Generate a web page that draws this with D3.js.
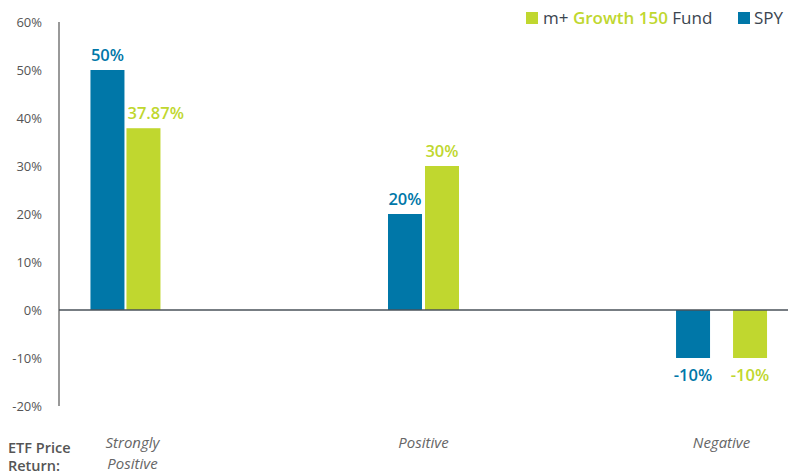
<!DOCTYPE html>
<html><head><meta charset="utf-8">
<script src="https://cdn.jsdelivr.net/npm/d3@7"></script>
<style>body{margin:0;background:#fff;}svg{display:block;}</style>
</head><body>
<svg id="c" width="788" height="475"></svg>
<script>
const categories = ["Strongly Positive", "Positive", "Negative"];
const categoryLines = [["Strongly", "Positive"], ["Positive"], ["Negative"]];
const spyValues = [50, 20, -10];
const fundValues = [37.87, 30, -10];
const fundLabels = ["37.87%", "30%", "-10%"];
const spyLabels = ["50%", "20%", "-10%"];
const yTicks = [60, 50, 40, 30, 20, 10, 0, -10, -20];

(function () {
const BLUE = "#0077a8", GREEN = "#c0d72f", DARK = "#3b4550";
const svg = d3.select("#c");
const mLeft = 59, mRight = 788, mTop = 22, mBottom = 406;
const y = d3.scaleLinear().domain([-20, 60]).range([mBottom, mTop]);
const x = d3.scalePoint().domain(categories).range([mLeft, mRight]).padding(0.223);
const barW = 34;
const gaps = [2, 3, 23];
const font = "'Open Sans', Lato, sans-serif";

// y axis
svg.append("line").attr("x1", mLeft).attr("x2", mLeft).attr("y1", y(60)).attr("y2", y(-20))
  .attr("stroke", "#555").attr("stroke-width", 1.2);
svg.selectAll(".yt").data(yTicks).enter().append("text")
  .attr("x", 42).attr("y", d => y(d) + 4.5).attr("text-anchor", "end")
  .attr("font-family", font).attr("font-size", 13).attr("fill", "#555")
  .text(d => d + "%");

// bars
const bars = [];
categories.forEach((c, i) => {
  const cx = x(c), g = gaps[i];
  bars.push({v: spyValues[i], x0: cx - g / 2 - barW, color: BLUE, label: spyLabels[i]});
  bars.push({v: fundValues[i], x0: cx + g / 2, color: GREEN, label: fundLabels[i]});
});
svg.selectAll(".bar").data(bars).enter().append("rect")
  .attr("x", d => d.x0).attr("width", barW)
  .attr("y", d => y(Math.max(0, d.v))).attr("height", d => Math.abs(y(d.v) - y(0)))
  .attr("fill", d => d.color);

// zero line
svg.append("line").attr("x1", mLeft).attr("x2", mRight).attr("y1", y(0)).attr("y2", y(0))
  .attr("stroke", "#4a525a").attr("stroke-width", 1.6);

// value labels
svg.selectAll(".vl").data(bars).enter().append("text")
  .attr("font-family", font).attr("font-weight", 600).attr("font-size", 16.5)
  .attr("fill", d => d.color)
  .attr("y", d => d.v >= 0 ? y(d.v) - 9 : y(d.v) + 23)
  .text(d => d.label)
  .each(function(d) {
    const w = this.getComputedTextLength();
    const el = d3.select(this);
    if (w > barW + 14) el.attr("x", d.x0 + 1).attr("text-anchor", "start");
    else el.attr("x", d.x0 + barW / 2).attr("text-anchor", "middle");
  });

// category labels
categories.forEach((c, i) => {
  const t = svg.append("text").attr("font-family", font).attr("font-style", "italic")
    .attr("font-size", 15).attr("fill", "#666").attr("text-anchor", "middle");
  categoryLines[i].forEach((ln, j) => {
    t.append("tspan").attr("x", x(c) + (i === 0 ? 7 : 0)).attr("y", 448 + j * 20.5).text(ln);
  });
});
svg.append("text").attr("font-family", font).attr("font-weight", 600).attr("font-size", 14.5)
  .attr("fill", "#555").selectAll("tspan").data(["ETF Price", "Return:"]).enter()
  .append("tspan").attr("x", 8).attr("y", (d, j) => 453 + j * 17.5).text(d => d);

// legend
const lg = svg.append("g").attr("font-family", font).attr("font-size", 17);
lg.append("rect").attr("x", 526).attr("y", 12).attr("width", 12).attr("height", 12).attr("fill", GREEN);
const lt = lg.append("text").attr("x", 543).attr("y", 24).attr("fill", DARK);
lt.append("tspan").text("m+ ");
lt.append("tspan").attr("fill", GREEN).attr("font-weight", 600).text("Growth 150");
lt.append("tspan").text(" Fund");
lg.append("rect").attr("x", 738).attr("y", 12).attr("width", 12).attr("height", 12).attr("fill", BLUE);
lg.append("text").attr("x", 754).attr("y", 24).attr("fill", DARK).text("SPY");
})();
</script>
</body></html>
